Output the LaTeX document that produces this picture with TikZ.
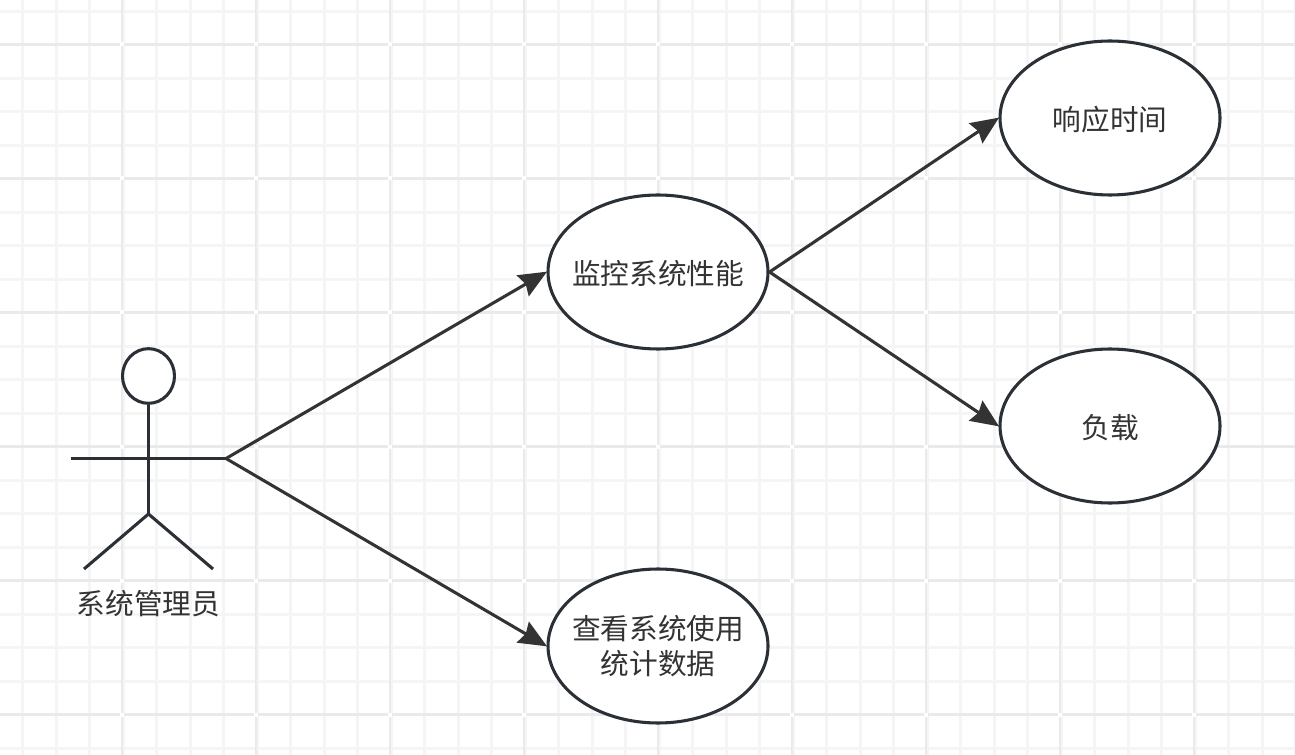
\documentclass[tikz,border=0pt]{standalone}
\usepackage{fontspec}
\setmainfont{Noto Sans CJK SC}
\usetikzlibrary{shapes.geometric,arrows.meta}
\definecolor{inkline}{HTML}{2A3036}
\definecolor{arrowink}{HTML}{333333}
\definecolor{gridminor}{HTML}{F5F5F5}
\definecolor{gridmajor}{HTML}{EAEAEA}
\tikzset{
  x=0.75pt,y=-0.75pt,
  usecase/.style={ellipse,draw=inkline,line width=2.3pt,fill=white,minimum width=165pt,minimum height=115.5pt,inner xsep=-40pt,inner ysep=-10pt,align=center,text=arrowink,font=\fontsize{21.5pt}{26.2pt}\selectfont},
  limb/.style={draw=inkline,line width=2.3pt},
  assoc/.style={draw=arrowink,line width=2.3pt,-{Stealth[length=21pt,width=18pt,inset=2.5pt]},shorten >=-0.5pt},
  minorgrid/.style={draw=gridminor,line width=2pt},
  majorgrid/.style={draw=gridmajor,line width=2pt},
  caption/.style={text=arrowink,font=\fontsize{21.5pt}{26pt}\selectfont,inner sep=0pt}
}
\newcommand{\lowered}[1]{\raisebox{-1.3pt}[\height][\depth]{#1}}
\begin{document}
\begin{tikzpicture}
\useasboundingbox (0,0) rectangle (1295,755);
\fill[white] (0,0) rectangle (1295,755);
% background grid: minor lines every 33.5 units, major every 134
\foreach \i in {0,...,38}{
  \pgfmathsetmacro{\gx}{22.7+33.5*\i}
  \draw[minorgrid] (\gx,0) -- (\gx,755);
}
\foreach \i in {0,...,22}{
  \pgfmathsetmacro{\gy}{11.3+33.5*\i}
  \draw[minorgrid] (0,\gy) -- (1295,\gy);
}
\foreach \i in {0,...,8}{
  \pgfmathsetmacro{\gx}{122+134*\i}
  \draw[majorgrid] (\gx,0) -- (\gx,755);
}
\foreach \i in {0,...,5}{
  \pgfmathsetmacro{\gy}{44.5+134*\i}
  \draw[majorgrid] (0,\gy) -- (1295,\gy);
}
% small clear gaps where the major lines cross
\foreach \i in {0,...,8}{
  \foreach \j in {0,...,5}{
    \pgfmathsetmacro{\gx}{122+134*\i}
    \pgfmathsetmacro{\gy}{44.5+134*\j}
    \fill[white] (\gx-2,\gy-2) rectangle (\gx+2,\gy+2);
  }
}
% use cases
\node[usecase] (monitor) at (658,272) {\lowered{监控系统性能}};
\node[usecase] (response) at (1110,118) {\lowered{响应时间}};
\node[usecase] (load) at (1110,426) {\lowered{负载}};
\node[usecase] (stats) at (658,646) {查看系统使用\\统计数据};
% actor figure
\node[ellipse,draw=inkline,line width=2.3pt,fill=white,minimum width=39pt,minimum height=41pt,inner sep=0pt] (head) at (148.5,376) {};
\coordinate (hip) at (148.5,514);
\coordinate (handL) at (71,458.5);
\coordinate (handR) at (226,458.5);
\coordinate (footL) at (84,569);
\coordinate (footR) at (213,569);
\draw[limb] (head.south) -- (hip);
\draw[limb] (handL) -- (handR);
\draw[limb] (footL) -- (hip) -- (footR);
\node[caption] (actorname) at (148.5,604) {系统管理员};
% associations
\draw[assoc] (handR) -- (monitor.west);
\draw[assoc] (handR) -- (stats.west);
\draw[assoc] (monitor.east) -- (response.west);
\draw[assoc] (monitor.east) -- (load.west);
\end{tikzpicture}
\end{document}
